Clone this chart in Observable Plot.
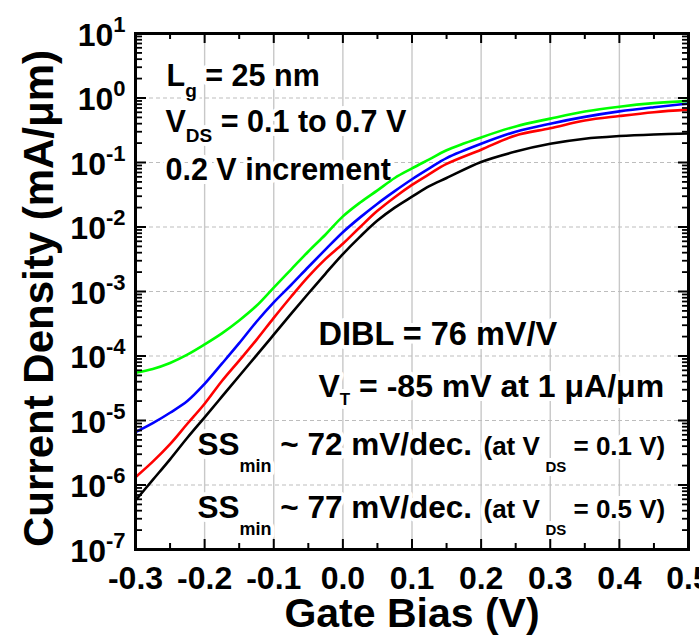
<!DOCTYPE html>
<html><head><meta charset="utf-8">
<script src="https://cdn.jsdelivr.net/npm/d3@7"></script>
<script src="https://cdn.jsdelivr.net/npm/@observablehq/plot@0.6"></script>
<style>html,body{margin:0;padding:0;background:#fff;overflow:hidden} svg{display:block}</style>
</head><body><div id="chart"></div>
<script>
// ---- data ----
const gateBias = [-0.3,-0.275,-0.25,-0.225,-0.2,-0.175,-0.15,-0.125,-0.1,-0.075,-0.05,-0.025,0,
  0.025,0.05,0.075,0.1,0.125,0.15,0.2,0.25,0.3,0.35,0.4,0.45,0.5];
const vdsLabels = ["VDS = 0.1 V","VDS = 0.3 V","VDS = 0.5 V","VDS = 0.7 V"];
const idVds01 = [5.75e-7,1.2e-6,2.5e-6,5.4e-6,1.12e-5,2.34e-5,4.9e-5,1.02e-4,2.14e-4,4.5e-4,9.3e-4,1.9e-3,3.8e-3,
  7.1e-3,1.26e-2,2.0e-2,2.95e-2,4.3e-2,5.75e-2,0.102,0.148,0.195,0.234,0.257,0.272,0.282];
const idVds03 = [1.32e-6,2.3e-6,4.3e-6,8.9e-6,1.82e-5,4.1e-5,8.5e-5,1.78e-4,3.9e-4,8.3e-4,1.7e-3,3.2e-3,5.5e-3,
  1.0e-2,1.78e-2,2.9e-2,4.5e-2,6.6e-2,9.5e-2,0.158,0.263,0.339,0.447,0.525,0.603,0.66];
const idVds05 = [6.6e-6,9.1e-6,1.32e-5,2.0e-5,3.7e-5,7.6e-5,1.58e-4,3.4e-4,6.8e-4,1.26e-3,2.4e-3,4.5e-3,8.3e-3,
  1.41e-2,2.3e-2,3.6e-2,5.5e-2,8.1e-2,0.117,0.195,0.30,0.40,0.51,0.62,0.72,0.82];
const idVds07 = [5.5e-5,6.3e-5,7.8e-5,1.05e-4,1.51e-4,2.24e-4,3.55e-4,6.0e-4,1.15e-3,2.19e-3,4.17e-3,7.66e-3,1.46e-2,
  2.4e-2,3.7e-2,5.75e-2,8.1e-2,0.112,0.155,0.245,0.363,0.479,0.617,0.733,0.832,0.902];
const xTicks = [-0.3,-0.2,-0.1,0,0.1,0.2,0.3,0.4,0.5];
const xTickLabels = ["-0.3","-0.2","-0.1","0.0","0.1","0.2","0.3","0.4","0.5"];
const yExponents = [-7,-6,-5,-4,-3,-2,-1,0,1];
const xTitle = "Gate Bias (V)";
const yTitle = "Current Density (mA/\u03bcm)";

// ---- build table ----
const seriesArrays = [idVds01, idVds03, idVds05, idVds07];
const rows = seriesArrays.flatMap((arr, k) => gateBias.map((v, i) => ({vg: v, id: arr[i], vds: vdsLabels[k]})));
const xMinor = xTicks.slice(0, -1).map(v => +(v + 0.05).toFixed(3));
const yMajor = yExponents.map(e => Math.pow(10, e));
const yMinor = yExponents.slice(0, -1).flatMap(e => d3.range(2, 10).map(m => m * Math.pow(10, e)));

const FONT = "'Liberation Sans', Arial, Helvetica, sans-serif";
const W = 699, H = 635, mT = 33, mR = 11, mB = 86, mL = 135;
const fw = W - mL - mR, fh = H - mT - mB;

// rich text (sub/superscripts) definitions
const rich = new Map();
function richKey(parts) { const k = parts.map(p => p.t).join(""); rich.set(k, parts); return k; }

const notes = [
  {x: -0.255, y: 1.56, parts: [{t:"L",s:30.5},{t:"g",s:19,sh:11},{t:" = 25 nm",s:30.5}]},
  {x: -0.2566, y: 0.295, parts: [{t:"V",s:30.5},{t:"DS",s:19,sh:10},{t:" = 0.1 to 0.7 V",s:30.5}]},
  {x: -0.2566, y: 0.0545, parts: [{t:"0.2 V increment",s:30.5}]},
  {x: -0.0353, y: 1.455e-4, parts: [{t:"DIBL = 76 mV/V",s:32.5}]},
  {x: -0.0353, y: 2.3e-5, parts: [{t:"V",s:32},{t:"T",s:17,sh:8},{t:" = -85 mV at 1 \u03bcA/\u03bcm",s:32}]},
  {x: -0.2103, y: 2.87e-6, parts: [{t:"SS",s:31.5},{t:"min",s:18,sh:17},{t:" ~ 72 mV/dec.",s:31.5},
     {t:"(at V",s:26,at:286},{t:"DS",s:15,sh:17,at:348},{t:"= 0.1 V)",s:26,at:376}]},
  {x: -0.2103, y: 3.03e-7, parts: [{t:"SS",s:31.5},{t:"min",s:18,sh:17},{t:" ~ 77 mV/dec.",s:31.5},
     {t:"(at V",s:26,at:286},{t:"DS",s:15,sh:17,at:348},{t:"= 0.5 V)",s:26,at:376}]}
];
notes.forEach(n => n.key = richKey(n.parts));
const yLabelKeys = yExponents.map(e => richKey([{t:"10",s:32},{t:String(e),s:22,sh:-14}]));

const svg = Plot.plot({
  width: W, height: H,
  marginTop: mT, marginRight: mR, marginBottom: mB, marginLeft: mL,
  style: {fontFamily: FONT, background: "white"},
  x: {domain: [-0.3, 0.5], axis: null},
  y: {type: "log", domain: [1e-7, 10], axis: null},
  color: {domain: vdsLabels, range: ["#000000", "#ff0000", "#0000ff", "#00ff00"]},
  marks: [
    Plot.ruleX(xTicks.slice(1, -1), {stroke: "#c8c8c8", strokeWidth: 1.4}),
    Plot.ruleY(yMajor.slice(1, -1), {stroke: "#bdbdbd", strokeWidth: 1, strokeDasharray: "4,3"}),
    // annotations (white halo hides the grid behind them)
    Plot.text(notes, {x: "x", y: "y", text: "key", textAnchor: "start", lineAnchor: "bottom",
      fontFamily: FONT, fontWeight: "bold", fontSize: 30, fill: "black",
      stroke: "white", strokeWidth: 8, paintOrder: "stroke"}),
    // curves
    Plot.line(rows, {x: "vg", y: "id", z: "vds", stroke: "vds", strokeWidth: 2.6, curve: "catmull-rom"}),
    // inward ticks
    Plot.tickX(xTicks, {x: d => d, insetTop: fh - 10, stroke: "black", strokeWidth: 2}),
    Plot.tickX(xTicks, {x: d => d, insetBottom: fh - 10, stroke: "black", strokeWidth: 2}),
    Plot.tickX(xMinor, {x: d => d, insetTop: fh - 6, stroke: "black", strokeWidth: 2}),
    Plot.tickX(xMinor, {x: d => d, insetBottom: fh - 6, stroke: "black", strokeWidth: 2}),
    Plot.tickY(yMajor, {y: d => d, insetRight: fw - 11, stroke: "black", strokeWidth: 2}),
    Plot.tickY(yMajor, {y: d => d, insetLeft: fw - 10, stroke: "black", strokeWidth: 2}),
    Plot.tickY(yMinor, {y: d => d, insetRight: fw - 7, stroke: "black", strokeWidth: 1.8}),
    Plot.tickY(yMinor, {y: d => d, insetLeft: fw - 6, stroke: "black", strokeWidth: 1.8}),
    Plot.frame({stroke: "black", strokeWidth: 3}),
    // tick labels
    Plot.text(xTicks, {x: d => d, text: (d, i) => xTickLabels[i], frameAnchor: "bottom", dy: 39,
      textAnchor: "middle", lineAnchor: "bottom", fontFamily: FONT, fontWeight: "bold", fontSize: 32, fill: "black"}),
    Plot.text(yMajor, {y: d => d, text: (d, i) => yLabelKeys[i], frameAnchor: "left", dx: -10, dy: 12,
      textAnchor: "end", lineAnchor: "bottom", fontFamily: FONT, fontWeight: "bold", fontSize: 32, fill: "black"}),
    // axis titles
    Plot.text([xTitle], {frameAnchor: "bottom", dy: 77, textAnchor: "middle", lineAnchor: "bottom",
      fontFamily: FONT, fontWeight: "bold", fontSize: 41, fill: "black"}),
    Plot.text([yTitle], {frameAnchor: "left", dx: -83, dy: 7, rotate: -90, textAnchor: "middle", lineAnchor: "bottom",
      fontFamily: FONT, fontWeight: "bold", fontSize: 42, fill: "black"})
  ]
});

// turn rich keys into tspans with sub/superscripts
svg.querySelectorAll("text").forEach(t => {
  const parts = rich.get(t.textContent);
  if (!parts) return;
  t.textContent = "";
  let prev = 0;
  for (const p of parts) {
    const ts = document.createElementNS("http://www.w3.org/2000/svg", "tspan");
    ts.textContent = p.t;
    ts.setAttribute("font-size", p.s);
    const sh = p.sh || 0;
    if (sh !== prev) ts.setAttribute("dy", sh - prev);
    prev = sh;
    if (p.at != null) ts.setAttribute("x", p.at);
    t.appendChild(ts);
  }
});

document.getElementById("chart").appendChild(svg);
</script>
</body></html>
